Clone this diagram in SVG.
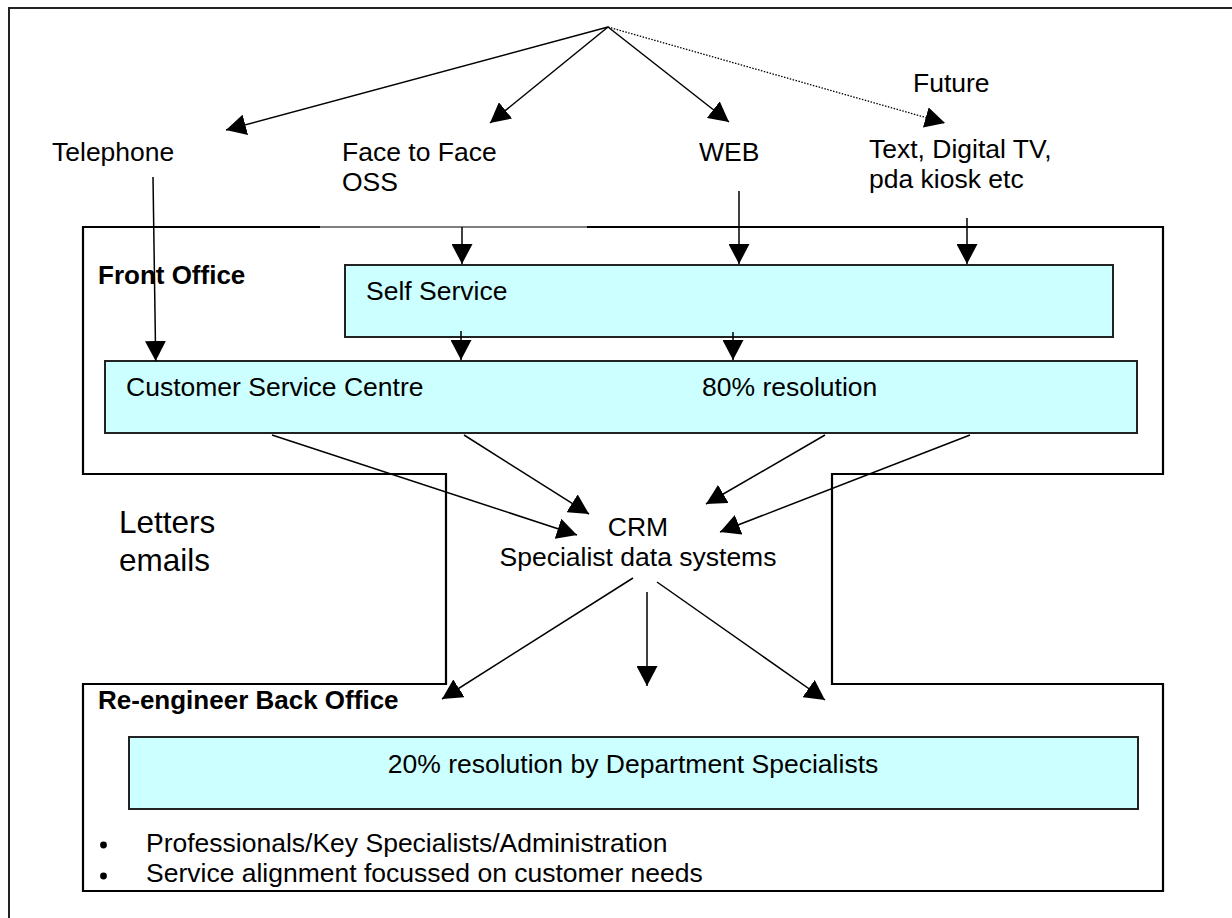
<svg xmlns="http://www.w3.org/2000/svg" width="1232" height="918" viewBox="0 0 1232 918">
  <defs>
    <style>
      .t { font-family: "Liberation Sans", Arial, sans-serif; font-size: 26.5px; fill: #000; }
      .b { font-family: "Liberation Sans", Arial, sans-serif; font-size: 26px; font-weight: bold; fill: #000; }
      .big { font-family: "Liberation Sans", Arial, sans-serif; font-size: 31.5px; fill: #000; }
      .box { fill: #CCFFFF; stroke: #222; stroke-width: 2; }
      .outline { fill: none; stroke: #000; stroke-width: 2.2; }
      .c { fill: none; stroke: #000; stroke-width: 1.5; marker-end: url(#ah); }
      .dot { stroke-dasharray: 1.5 1.5; stroke-width: 1.3; }
    </style>
    <marker id="ah" markerUnits="userSpaceOnUse" markerWidth="21" markerHeight="21" refX="20" refY="10.5" orient="auto" viewBox="0 0 21 21">
      <path d="M0,0 L20,10.5 L0,21 z" fill="#000"/>
    </marker>
  </defs>

  <!-- page border -->
  <g id="frame">
    <rect x="9" y="8" width="1240" height="930" fill="none" stroke="#222" stroke-width="2"/>
  </g>

  <!-- front office / back office outline -->
  <g id="offices">
    <path class="outline" d="M320,227 H83 V474 H446 V684 H83 V891 H1163 V684 H832 V474 H1163 V227 H587"/>
    <path d="M320,227 H587" fill="none" stroke="#000" stroke-width="1.2"/>
    <text class="b" x="98" y="284">Front Office</text>
    <text class="b" x="98" y="709">Re-engineer Back Office</text>
  </g>

  <!-- channels -->
  <g id="telephone">
    <text class="t" x="52" y="161">Telephone</text>
  </g>
  <g id="face-to-face">
    <text class="t" x="342" y="161">Face to Face</text>
    <text class="t" x="342" y="191">OSS</text>
  </g>
  <g id="web">
    <text class="t" x="699" y="161">WEB</text>
  </g>
  <g id="future">
    <text class="t" x="913" y="92">Future</text>
    <text class="t" x="869" y="158">Text, Digital TV,</text>
    <text class="t" x="869" y="188">pda kiosk etc</text>
  </g>

  <!-- front office boxes -->
  <g id="self-service">
    <rect class="box" x="345" y="265" width="768" height="72"/>
    <text class="t" x="366" y="300">Self Service</text>
  </g>
  <g id="customer-service-centre">
    <rect class="box" x="105" y="361" width="1032" height="72"/>
    <text class="t" x="126" y="396">Customer Service Centre</text>
    <text class="t" x="702" y="396">80% resolution</text>
  </g>

  <!-- hub -->
  <g id="crm">
    <text class="t" x="638" y="535.5" text-anchor="middle">CRM</text>
    <text class="t" x="638" y="566" text-anchor="middle">Specialist data systems</text>
  </g>

  <g id="letters">
    <text class="big" x="119" y="533">Letters</text>
    <text class="big" x="119" y="570.5">emails</text>
  </g>

  <!-- back office content -->
  <g id="department-specialists">
    <rect class="box" x="129" y="737" width="1009" height="72"/>
    <text class="t" x="633" y="773" text-anchor="middle">20% resolution by Department Specialists</text>
  </g>
  <g id="bullets">
    <circle cx="103.5" cy="845" r="3.4" fill="#000"/>
    <circle cx="103.5" cy="876" r="3.4" fill="#000"/>
    <text class="t" x="146" y="852">Professionals/Key Specialists/Administration</text>
    <text class="t" x="146" y="882">Service alignment focussed on customer needs</text>
  </g>

  <!-- connectors -->
  <g id="connectors">
    <path class="c" d="M608,27 L226,130"/>
    <path class="c" d="M608,27 L490,123"/>
    <path class="c" d="M608,27 L729,122"/>
    <path class="c dot" d="M608,27 L945,123"/>
    <path class="c" d="M153,177 L155.7,361"/>
    <path class="c" d="M462,227 L462,264"/>
    <path class="c" d="M739,191 L739,264"/>
    <path class="c" d="M967,218 L967,264"/>
    <path class="c" d="M461,331 L461,360"/>
    <path class="c" d="M733,332 L733,360"/>
    <path class="c" d="M272,435 L577,535"/>
    <path class="c" d="M464,435 L589,514"/>
    <path class="c" d="M825,435 L706,504"/>
    <path class="c" d="M970,435 L720,532"/>
    <path class="c" d="M633,578 L442,699"/>
    <path class="c" d="M647,592 L647,686"/>
    <path class="c" d="M657,582 L825,700"/>
  </g>
</svg>
